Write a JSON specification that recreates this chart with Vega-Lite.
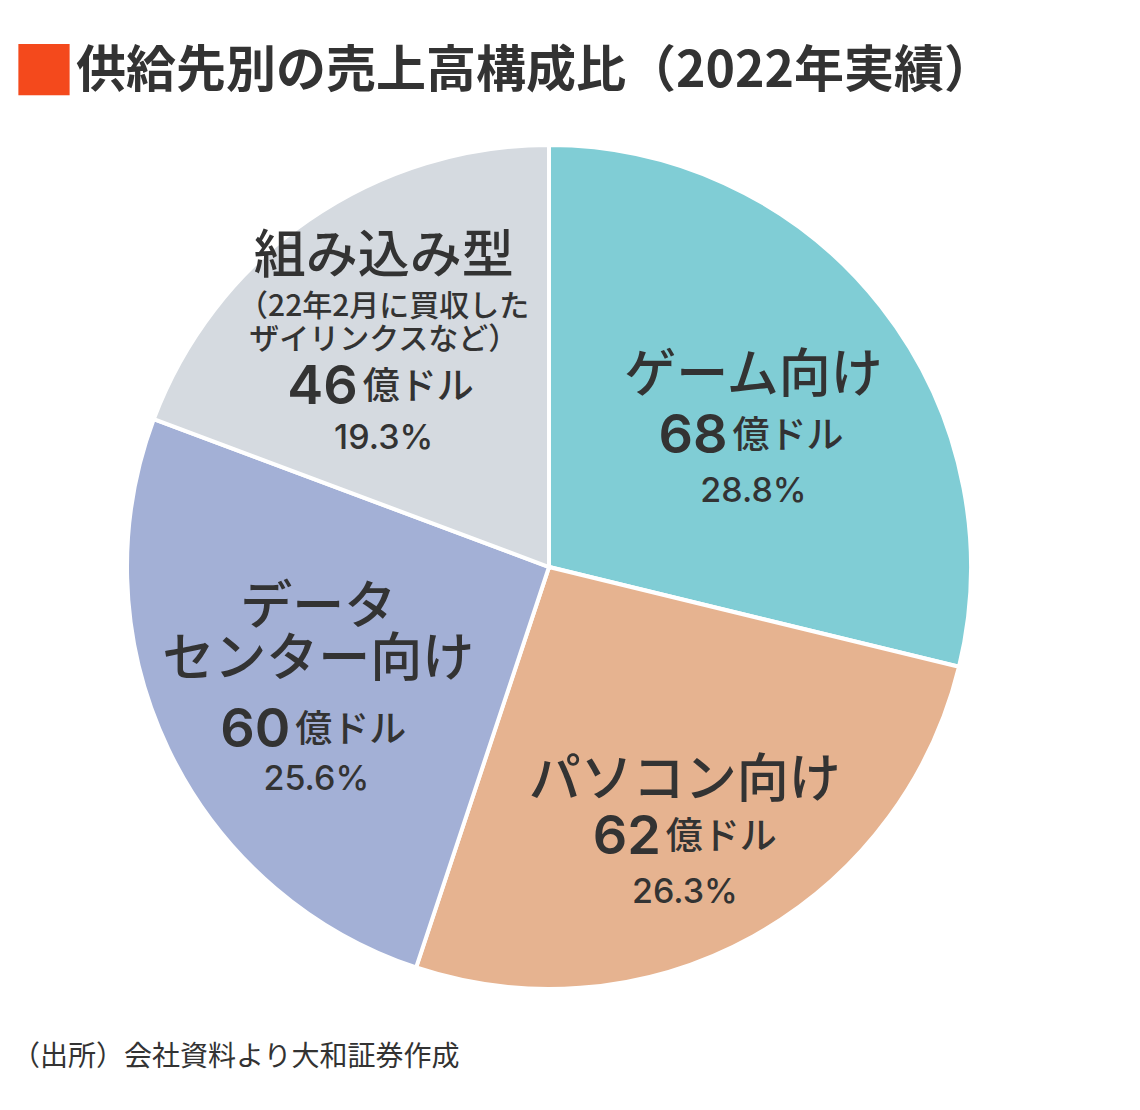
{
  "$schema": "https://vega.github.io/schema/vega-lite/v6.json",
  "background": "white",
  "padding": {"left": 0, "top": 43, "right": 0, "bottom": 30},
  "title": {
    "text": "■",
    "anchor": "start",
    "color": "#F4491C",
    "font": "Noto Sans CJK JP",
    "fontSize": 64,
    "offset": 0,
    "dx": 12,
    "dy": 60
  },
  "config": {"view": {"stroke": null}, "concat": {"spacing": 0}},
  "vconcat": [
    {
      "title": {
        "text": "供給先別の売上高構成比（2022年実績）",
        "anchor": "start",
        "font": "Noto Sans CJK JP",
        "fontSize": 50,
        "fontWeight": "bold",
        "color": "#333333",
        "offset": 40,
        "dx": 76
      },
      "vconcat": [
        {
          "width": 1098,
          "height": 860,
          "title": {
            "text": "（出所）会社資料より大和証券作成",
            "orient": "bottom",
            "anchor": "start",
            "font": "Noto Sans CJK JP",
            "fontSize": 28,
            "fontWeight": "normal",
            "color": "#333333",
            "offset": 47,
            "dx": 12
          },
          "data": {
            "values": [
              {"cat": "ゲーム向け", "name": "ゲーム向け", "amt": "68", "unit": "億ドル", "pct": 28.8, "pctLabel": "28.8%"},
              {"cat": "パソコン向け", "name": "パソコン向け", "amt": "62", "unit": "億ドル", "pct": 26.3, "pctLabel": "26.3%"},
              {"cat": "データセンター向け", "name": "データ", "name2": "センター向け", "amt": "60", "unit": "億ドル", "pct": 25.6, "pctLabel": "25.6%"},
              {"cat": "組み込み型", "name": "組み込み型", "note": "（22年2月に買収した", "note2": "ザイリンクスなど）", "amt": "46", "unit": "億ドル", "pct": 19.3, "pctLabel": "19.3%"}
            ]
          },
          "encoding": {
            "theta": {"field": "pct", "type": "quantitative", "stack": true},
            "order": {"field": "pct", "sort": "descending"}
          },
          "layer": [
            {
              "mark": {"type": "arc", "outerRadius": 422, "stroke": "white", "strokeWidth": 4},
              "encoding": {
                "color": {
                  "field": "cat", "type": "nominal", "legend": null,
                  "scale": {
                    "domain": ["ゲーム向け", "パソコン向け", "データセンター向け", "組み込み型"],
                    "range": ["#80CDD5", "#E6B390", "#A3B0D6", "#D5DAE0"]
                  }
                }
              }
            },
            {
              "encoding": {"radius": {"value": 241}},
              "layer": [
                {"mark": {"type": "text", "font": "Noto Sans CJK JP", "fontSize": 52, "fontWeight": 500, "fill": "#333333", "align": "center", "baseline": "middle", "dx": 15, "dy": -42},
                 "encoding": {"text": {"condition": {"test": "datum.cat === 'ゲーム向け'", "field": "name", "type": "nominal"}, "value": ""}}},
                {"mark": {"type": "text", "font": "Inter", "fontSize": 54, "fontWeight": 600, "fill": "#333333", "align": "right", "baseline": "middle", "dx": -11, "dy": 19},
                 "encoding": {"text": {"condition": {"test": "datum.cat === 'ゲーム向け'", "field": "amt", "type": "nominal"}, "value": ""}}},
                {"mark": {"type": "text", "font": "Noto Sans CJK JP", "fontSize": 37, "fontWeight": 500, "fill": "#333333", "align": "left", "baseline": "middle", "dx": -6, "dy": 19},
                 "encoding": {"text": {"condition": {"test": "datum.cat === 'ゲーム向け'", "field": "unit", "type": "nominal"}, "value": ""}}},
                {"mark": {"type": "text", "font": "Inter", "fontSize": 34, "fontWeight": 500, "fill": "#333333", "align": "center", "baseline": "middle", "dx": 15, "dy": 74},
                 "encoding": {"text": {"condition": {"test": "datum.cat === 'ゲーム向け'", "field": "pctLabel", "type": "nominal"}, "value": ""}}}
              ]
            },
            {
              "encoding": {"radius": {"value": 301}},
              "layer": [
                {"mark": {"type": "text", "font": "Noto Sans CJK JP", "fontSize": 52, "fontWeight": 500, "fill": "#333333", "align": "center", "baseline": "middle", "dx": -10, "dy": -49},
                 "encoding": {"text": {"condition": {"test": "datum.cat === 'パソコン向け'", "field": "name", "type": "nominal"}, "value": ""}}},
                {"mark": {"type": "text", "font": "Inter", "fontSize": 54, "fontWeight": 600, "fill": "#333333", "align": "right", "baseline": "middle", "dx": -34, "dy": 8},
                 "encoding": {"text": {"condition": {"test": "datum.cat === 'パソコン向け'", "field": "amt", "type": "nominal"}, "value": ""}}},
                {"mark": {"type": "text", "font": "Noto Sans CJK JP", "fontSize": 37, "fontWeight": 500, "fill": "#333333", "align": "left", "baseline": "middle", "dx": -29, "dy": 8},
                 "encoding": {"text": {"condition": {"test": "datum.cat === 'パソコン向け'", "field": "unit", "type": "nominal"}, "value": ""}}},
                {"mark": {"type": "text", "font": "Inter", "fontSize": 34, "fontWeight": 500, "fill": "#333333", "align": "center", "baseline": "middle", "dx": -10, "dy": 63},
                 "encoding": {"text": {"condition": {"test": "datum.cat === 'パソコン向け'", "field": "pctLabel", "type": "nominal"}, "value": ""}}}
              ]
            },
            {
              "encoding": {"radius": {"value": 279}},
              "layer": [
                {"mark": {"type": "text", "font": "Noto Sans CJK JP", "fontSize": 52, "fontWeight": 500, "fill": "#333333", "align": "center", "baseline": "middle", "dx": 21, "dy": -79},
                 "encoding": {"text": {"condition": {"test": "datum.cat === 'データセンター向け'", "field": "name", "type": "nominal"}, "value": ""}}},
                {"mark": {"type": "text", "font": "Noto Sans CJK JP", "fontSize": 52, "fontWeight": 500, "fill": "#333333", "align": "center", "baseline": "middle", "dx": 21, "dy": -27},
                 "encoding": {"text": {"condition": {"test": "datum.cat === 'データセンター向け'", "field": "name2", "type": "nominal"}, "value": ""}}},
                {"mark": {"type": "text", "font": "Inter", "fontSize": 54, "fontWeight": 600, "fill": "#333333", "align": "right", "baseline": "middle", "dx": -7, "dy": 44},
                 "encoding": {"text": {"condition": {"test": "datum.cat === 'データセンター向け'", "field": "amt", "type": "nominal"}, "value": ""}}},
                {"mark": {"type": "text", "font": "Noto Sans CJK JP", "fontSize": 37, "fontWeight": 500, "fill": "#333333", "align": "left", "baseline": "middle", "dx": -2, "dy": 44},
                 "encoding": {"text": {"condition": {"test": "datum.cat === 'データセンター向け'", "field": "unit", "type": "nominal"}, "value": ""}}},
                {"mark": {"type": "text", "font": "Inter", "fontSize": 34, "fontWeight": 500, "fill": "#333333", "align": "center", "baseline": "middle", "dx": 19, "dy": 93},
                 "encoding": {"text": {"condition": {"test": "datum.cat === 'データセンター向け'", "field": "pctLabel", "type": "nominal"}, "value": ""}}}
              ]
            },
            {
              "encoding": {"radius": {"value": 255}},
              "layer": [
                {"mark": {"type": "text", "font": "Noto Sans CJK JP", "fontSize": 52, "fontWeight": 500, "fill": "#333333", "align": "center", "baseline": "middle", "dx": -20, "dy": -100},
                 "encoding": {"text": {"condition": {"test": "datum.cat === '組み込み型'", "field": "name", "type": "nominal"}, "value": ""}}},
                {"mark": {"type": "text", "font": "Noto Sans CJK JP", "fontSize": 30, "fontWeight": 500, "fill": "#333333", "align": "center", "baseline": "middle", "dx": -20, "dy": -50},
                 "encoding": {"text": {"condition": {"test": "datum.cat === '組み込み型'", "field": "note", "type": "nominal"}, "value": ""}}},
                {"mark": {"type": "text", "font": "Noto Sans CJK JP", "fontSize": 30, "fontWeight": 500, "fill": "#333333", "align": "center", "baseline": "middle", "dx": -20, "dy": -17},
                 "encoding": {"text": {"condition": {"test": "datum.cat === '組み込み型'", "field": "note2", "type": "nominal"}, "value": ""}}},
                {"mark": {"type": "text", "font": "Inter", "fontSize": 54, "fontWeight": 600, "fill": "#333333", "align": "right", "baseline": "middle", "dx": -46, "dy": 31},
                 "encoding": {"text": {"condition": {"test": "datum.cat === '組み込み型'", "field": "amt", "type": "nominal"}, "value": ""}}},
                {"mark": {"type": "text", "font": "Noto Sans CJK JP", "fontSize": 37, "fontWeight": 500, "fill": "#333333", "align": "left", "baseline": "middle", "dx": -41, "dy": 31},
                 "encoding": {"text": {"condition": {"test": "datum.cat === '組み込み型'", "field": "unit", "type": "nominal"}, "value": ""}}},
                {"mark": {"type": "text", "font": "Inter", "fontSize": 34, "fontWeight": 500, "fill": "#333333", "align": "center", "baseline": "middle", "dx": -20, "dy": 82},
                 "encoding": {"text": {"condition": {"test": "datum.cat === '組み込み型'", "field": "pctLabel", "type": "nominal"}, "value": ""}}}
              ]
            }
          ]
        }
      ]
    }
  ]
}
